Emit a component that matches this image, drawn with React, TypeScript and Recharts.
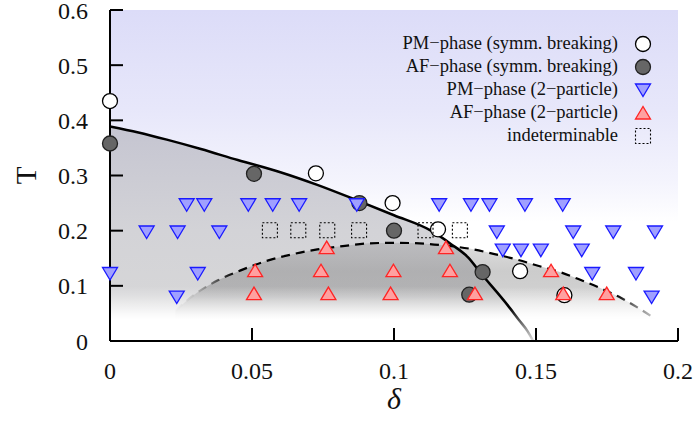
import React from 'react';
import {
  ComposedChart,
  XAxis,
  YAxis,
  Scatter,
  Line,
  Area,
  CartesianGrid,
} from 'recharts';

// ---- tick labels ----
const xTicks = [0, 0.05, 0.1, 0.15, 0.2];
const yTicks = [0, 0.1, 0.2, 0.3, 0.4, 0.5, 0.6];

// ---- series: [delta, T] ----
const pmSymm: [number, number][] = [
  [0, 0.435], [0.0725, 0.304], [0.0995, 0.25], [0.1155, 0.2025], [0.1444, 0.1266], [0.16, 0.083],
];
const afSymm: [number, number][] = [
  [0, 0.358], [0.0507, 0.303], [0.0878, 0.25], [0.1, 0.2], [0.1312, 0.125], [0.1265, 0.084],
];
const pm2: [number, number][] = [
  [0.027, 0.247], [0.0332, 0.247], [0.0487, 0.247], [0.0573, 0.247], [0.0666, 0.247], [0.0869, 0.247],
  [0.1159, 0.247], [0.1271, 0.247], [0.1336, 0.247], [0.1461, 0.247], [0.1594, 0.247],
  [0.0129, 0.1976], [0.0238, 0.1976], [0.0385, 0.1976], [0.1362, 0.1976], [0.1631, 0.1976], [0.1772, 0.1976], [0.1919, 0.1976],
  [0.1383, 0.1646], [0.1447, 0.1646], [0.1517, 0.1646], [0.1661, 0.1646],
  [0, 0.1224], [0.0309, 0.1224], [0.1698, 0.1224], [0.1852, 0.1224],
  [0.0235, 0.0796], [0.1907, 0.0796],
];
const af2: [number, number][] = [
  [0.0511, 0.1275], [0.0743, 0.1275], [0.0998, 0.1275], [0.1197, 0.1275], [0.1553, 0.1275],
  [0.0507, 0.0859], [0.0769, 0.0859], [0.0988, 0.0859], [0.1285, 0.0859], [0.1596, 0.0859], [0.1749, 0.0859],
  [0.0763, 0.1694], [0.1183, 0.1694],
];
const indet: [number, number][] = [
  [0.0563, 0.2007], [0.0663, 0.2007], [0.0765, 0.2007], [0.0877, 0.2007], [0.1111, 0.2007], [0.1232, 0.2007],
];

// ---- boundary curves ----
const solidDelta = [0, 0.01, 0.02, 0.032, 0.045, 0.06, 0.073, 0.087, 0.1, 0.113, 0.12, 0.126, 0.131, 0.136, 0.14, 0.144, 0.147, 0.149];
const solidT = [0.389, 0.378, 0.365, 0.348, 0.328, 0.306, 0.283, 0.255, 0.228, 0.2, 0.176, 0.152, 0.12, 0.09, 0.065, 0.038, 0.018, 0.0];
const dashDelta = [0.023, 0.03, 0.038, 0.046, 0.055, 0.064, 0.073, 0.082, 0.091, 0.1, 0.109, 0.118, 0.127, 0.135, 0.143, 0.151, 0.159, 0.166, 0.173, 0.18, 0.186, 0.192];
const dashT = [0.055, 0.085, 0.11, 0.128, 0.145, 0.157, 0.166, 0.172, 0.177, 0.178, 0.177, 0.173, 0.167, 0.158, 0.148, 0.136, 0.124, 0.11, 0.095, 0.078, 0.06, 0.04];

// white fog band near T = 0 (a shading layer only)
const fogDelta = [0, 0.2];
const fogT = [0.1, 0.1];

const toPts = (arr: [number, number][]) => arr.map(([x, y]) => ({ x, y }));
const zipPts = (xs: number[], ys: number[]) => xs.map((x, i) => ({ x, y: ys[i] }));

const solidCurve = zipPts(solidDelta, solidT);
const dashCurve = zipPts(dashDelta, dashT);
const fogBand = zipPts(fogDelta, fogT);

const FONT = "'Liberation Serif', 'Times New Roman', serif";

// plot box in pixels (used only for gradient geometry)
const PLOT_LEFT = 110;
const PLOT_RIGHT = 678;
const PLOT_TOP = 10;
const PLOT_BOTTOM = 341;

const OpenCircle = (p: any) => (
  <circle cx={p.cx} cy={p.cy} r={7.5} fill="#ffffff" stroke="#000" strokeWidth={1.3} />
);
const FilledCircle = (p: any) => (
  <circle cx={p.cx} cy={p.cy} r={7.5} fill="#666666" stroke="#222" strokeWidth={1.3} />
);
const DownTri = (p: any) => (
  <polygon
    points={`${p.cx - 7.5},${p.cy - 6} ${p.cx + 7.5},${p.cy - 6} ${p.cx},${p.cy + 6.5}`}
    fill="#a0a0ff"
    stroke="#1a1aff"
    strokeWidth={1.3}
  />
);
const UpTri = (p: any) => (
  <polygon
    points={`${p.cx - 7.5},${p.cy + 6} ${p.cx + 7.5},${p.cy + 6} ${p.cx},${p.cy - 6.5}`}
    fill="#ffa0a0"
    stroke="#ff2424"
    strokeWidth={1.3}
  />
);
const DotSquare = (p: any) => (
  <rect x={p.cx - 7.5} y={p.cy - 7.5} width={15} height={15} fill="none" stroke="#000" strokeWidth={1.1} strokeDasharray="2 2" />
);

const legendItems = [
  { label: 'PM\u2212phase (symm. breaking)', kind: 'open' },
  { label: 'AF\u2212phase (symm. breaking)', kind: 'filled' },
  { label: 'PM\u2212phase (2\u2212particle)', kind: 'down' },
  { label: 'AF\u2212phase (2\u2212particle)', kind: 'up' },
  { label: 'indeterminable', kind: 'square' },
];

const LegendSymbol = ({ kind }: { kind: string }) => {
  const c = { cx: 9, cy: 9 };
  let el: React.ReactNode = null;
  if (kind === 'open') el = <OpenCircle {...c} />;
  else if (kind === 'filled') el = <FilledCircle {...c} />;
  else if (kind === 'down') el = <DownTri {...c} />;
  else if (kind === 'up') el = <UpTri {...c} />;
  else el = <DotSquare {...c} />;
  return (
    <svg width={18} height={18} style={{ display: 'block' }}>
      {el}
    </svg>
  );
};

const XLabel = (props: any) => {
  const vb = props.viewBox || {};
  const cx = vb.x + vb.width / 2;
  return (
    <text x={cx} y={vb.y + 68} textAnchor="middle" fontFamily={FONT} fontStyle="italic" fontSize={30} fill="#111">
      δ
    </text>
  );
};

const YLabel = (props: any) => {
  const vb = props.viewBox || {};
  const cy = vb.y + vb.height / 2;
  return (
    <text
      transform={`translate(${26}, ${cy}) rotate(-90)`}
      x={0}
      y={0}
      dy="0.33em"
      textAnchor="middle"
      fontFamily={FONT}
      fontSize={29}
      fill="#111"
    >
      T
    </text>
  );
};

const axisLine = { stroke: '#000', strokeWidth: 2 };
const tickLine = { stroke: '#000', strokeWidth: 2 };
const tickStyle = { fill: '#111', fontSize: 24, fontFamily: FONT };
const empty = () => '';

const vGrad = { gradientUnits: 'userSpaceOnUse' as const, x1: 0, x2: 0, y1: PLOT_TOP, y2: PLOT_BOTTOM };
const hGrad = { gradientUnits: 'userSpaceOnUse' as const, y1: 0, y2: 0, x1: PLOT_LEFT, x2: PLOT_RIGHT };

export default function App() {
  return (
    <div style={{ position: 'absolute', left: 0, top: 0, width: 696, height: 423, background: '#fff' }}>
      <ComposedChart width={696} height={423} margin={{ top: 10, right: 18, bottom: 0, left: 0 }}>
        <defs>
          <linearGradient id="bgGrad" {...vGrad}>
            <stop offset="0" stopColor="#dcdcf8" />
            <stop offset="0.3" stopColor="#e7e7fa" />
            <stop offset="0.52" stopColor="#f4f4fd" />
            <stop offset="0.64" stopColor="#ffffff" />
            <stop offset="1" stopColor="#ffffff" />
          </linearGradient>
          <linearGradient id="solidGrad" {...vGrad}>
            <stop offset="0.35" stopColor="#c5c5d1" />
            <stop offset="0.667" stopColor="#d3d3d7" />
            <stop offset="1" stopColor="#d8d8d8" />
          </linearGradient>
          <linearGradient id="dashGrad" {...vGrad}>
            <stop offset="0.7" stopColor="#606060" stopOpacity={0.2} />
            <stop offset="0.79" stopColor="#606060" stopOpacity={0.32} />
            <stop offset="0.84" stopColor="#606060" stopOpacity={0.3} />
            <stop offset="0.88" stopColor="#606060" stopOpacity={0.22} />
            <stop offset="1" stopColor="#606060" stopOpacity={0.1} />
          </linearGradient>
          <linearGradient id="fogGrad" {...vGrad}>
            <stop offset="0.835" stopColor="#ffffff" stopOpacity={0} />
            <stop offset="0.865" stopColor="#ffffff" stopOpacity={0.25} />
            <stop offset="0.895" stopColor="#ffffff" stopOpacity={0.6} />
            <stop offset="0.92" stopColor="#ffffff" stopOpacity={0.88} />
            <stop offset="0.935" stopColor="#ffffff" stopOpacity={1} />
            <stop offset="1" stopColor="#ffffff" stopOpacity={1} />
          </linearGradient>
          <linearGradient id="solidStroke" {...vGrad}>
            <stop offset="0" stopColor="#000" />
            <stop offset="0.9" stopColor="#000" />
            <stop offset="0.965" stopColor="#999" />
            <stop offset="1" stopColor="#dddddd" />
          </linearGradient>
          <linearGradient id="dashStroke" {...hGrad}>
            <stop offset="0.115" stopColor="#f2f2f2" />
            <stop offset="0.15" stopColor="#bbbbbb" />
            <stop offset="0.2" stopColor="#333" />
            <stop offset="0.225" stopColor="#000" />
            <stop offset="0.89" stopColor="#000" />
            <stop offset="0.925" stopColor="#777" />
            <stop offset="0.96" stopColor="#cccccc" />
          </linearGradient>
        </defs>

        <CartesianGrid horizontal={false} vertical={false} fill="url(#bgGrad)" stroke="none" />

        <XAxis
          xAxisId={0}
          dataKey="x"
          type="number"
          domain={[0, 0.2]}
          ticks={xTicks}
          height={82}
          axisLine={axisLine}
          tickLine={tickLine}
          tickSize={-13}
          tickMargin={34}
          tick={tickStyle}
          interval={0}
          label={<XLabel />}
        />
        <XAxis
          xAxisId="top"
          orientation="top"
          dataKey="x"
          type="number"
          domain={[0, 0.2]}
          ticks={xTicks}
          height={0}
          axisLine={axisLine}
          tickLine={tickLine}
          tickSize={-13}
          tickFormatter={empty}
          interval={0}
        />
        <YAxis
          yAxisId={0}
          type="number"
          domain={[0, 0.6]}
          ticks={yTicks}
          width={110}
          axisLine={axisLine}
          tickLine={tickLine}
          tickSize={-13}
          tickMargin={35}
          tick={tickStyle}
          interval={0}
          label={<YLabel />}
        />
        <YAxis
          yAxisId="right"
          orientation="right"
          type="number"
          domain={[0, 0.6]}
          ticks={yTicks}
          width={0}
          axisLine={axisLine}
          tickLine={tickLine}
          tickSize={-13}
          tickFormatter={empty}
          interval={0}
        />

        <Area
          data={solidCurve}
          dataKey="y"
          type="monotone"
          stroke="none"
          fill="url(#solidGrad)"
          fillOpacity={1}
          isAnimationActive={false}
          dot={false}
          activeDot={false}
        />
        <Area
          data={dashCurve}
          dataKey="y"
          type="monotone"
          stroke="none"
          fill="url(#dashGrad)"
          fillOpacity={1}
          isAnimationActive={false}
          dot={false}
          activeDot={false}
        />
        <Area
          data={fogBand}
          dataKey="y"
          type="linear"
          stroke="none"
          fill="url(#fogGrad)"
          fillOpacity={1}
          isAnimationActive={false}
          dot={false}
          activeDot={false}
        />

        <Line
          data={solidCurve}
          dataKey="y"
          type="monotone"
          stroke="url(#solidStroke)"
          strokeWidth={2.5}
          dot={false}
          activeDot={false}
          isAnimationActive={false}
        />
        <Line
          data={dashCurve}
          dataKey="y"
          type="monotone"
          stroke="url(#dashStroke)"
          strokeWidth={2.2}
          strokeDasharray="9 6"
          dot={false}
          activeDot={false}
          isAnimationActive={false}
        />

        <Scatter data={toPts(pmSymm)} dataKey="y" shape={OpenCircle} isAnimationActive={false} />
        <Scatter data={toPts(afSymm)} dataKey="y" shape={FilledCircle} isAnimationActive={false} />
        <Scatter data={toPts(pm2)} dataKey="y" shape={DownTri} isAnimationActive={false} />
        <Scatter data={toPts(af2)} dataKey="y" shape={UpTri} isAnimationActive={false} />
        <Scatter data={toPts(indet)} dataKey="y" shape={DotSquare} isAnimationActive={false} />
      </ComposedChart>

      <div
        style={{
          position: 'absolute',
          left: 320,
          top: 32,
          width: 335,
          fontFamily: FONT,
          fontSize: 18.5,
          color: '#111',
        }}
      >
        {legendItems.map((it) => (
          <div key={it.label} style={{ display: 'flex', alignItems: 'center', height: 23 }}>
            <div style={{ width: 298, textAlign: 'right', whiteSpace: 'nowrap' }}>{it.label}</div>
            <div style={{ marginLeft: 16 }}>
              <LegendSymbol kind={it.kind} />
            </div>
          </div>
        ))}
      </div>
    </div>
  );
}
